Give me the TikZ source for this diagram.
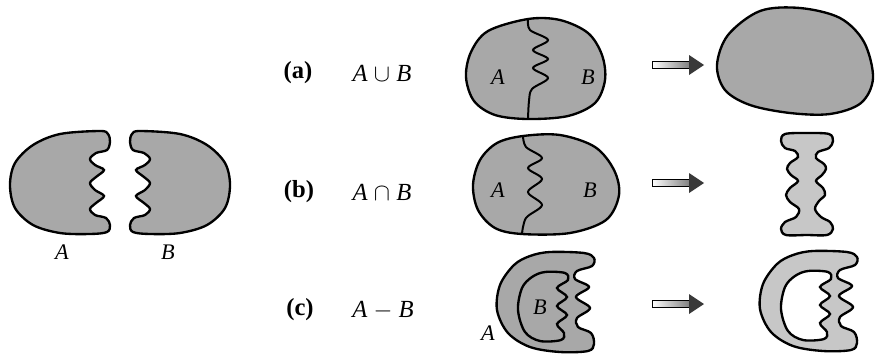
\documentclass[tikz,border=0pt]{standalone}
\usepackage{fontspec}
\setmainfont{Liberation Serif}

\definecolor{blobgray}{gray}{0.66}
\definecolor{lightblob}{gray}{0.78}

% outlines (pixel units, y downwards)
\newcommand{\pieceA}{plot[smooth cycle, tension=0.55] coordinates {
  (100,131) (108,134) (110,142) (107,150) (96,153) (90,159) (95,165) (104,170)
  (96,177) (90,183) (95,190) (104,196) (96,203) (90,209) (95,215) (106,218)
  (110,225) (107,232) (90,234) (60,233) (33,225) (15,208) (10,185) (15,163)
  (33,145) (60,134)}}
\newcommand{\outerA}{plot[smooth cycle, tension=0.55] coordinates {
  (550,252) (584,253) (594,258) (592,266) (577,271) (575,279) (589,287) (576,297)
  (590,308) (577,318) (578,327) (591,333) (594,344) (588,351) (560,352) (530,347)
  (508,333) (497,310) (500,285) (514,265) (530,256)}}
\newcommand{\innerB}{plot[smooth cycle, tension=0.55] coordinates {
  (545,272) (565,273) (568,280) (557,288) (567,297) (557,306) (567,315) (557,324)
  (564,333) (561,340) (540,341) (525,332) (518,310) (522,288) (532,277)}}

\begin{document}
\begin{tikzpicture}[x=0.03cm, y=-0.03cm,
  region/.style={draw=black, line width=2pt, fill=blobgray},
  result/.style={draw=black, line width=2pt, fill=lightblob},
  seam/.style={line width=1.7pt},
  tag/.style={font=\fontsize{21}{24}\selectfont},
  setlabel/.style={font=\fontsize{19}{22}\selectfont\itshape}]

  \useasboundingbox (0,0) rectangle (875,353);

  % The two pieces A and B
  \draw[region] \pieceA;
  \begin{scope}[shift={(240,0)}, xscale=-1]
    \draw[region] \pieceA;
  \end{scope}
  \node[setlabel] (lblA) at (62,252) {A};
  \node[setlabel] (lblB) at (168,252) {B};

  % Captions
  \node[tag] (tagA) at (298,73) {\textbf{(a)}};
  \node[tag] (opA) at (382,73) {\textit{A} $\cup$ \textit{B}};
  \node[tag] (tagB) at (299,192) {\textbf{(b)}};
  \node[tag] (opB) at (382,192) {\textit{A} $\cap$ \textit{B}};
  \node[tag] (tagC) at (300,310) {\textbf{(c)}};
  \node[tag] (opC) at (383,310) {\textit{A} $-$ \textit{B}};

  % (a) union
  \draw[region] plot[smooth cycle, tension=0.55] coordinates {
    (528,19) (560,20) (588,33) (602,55) (605,80) (595,103) (568,116) (528,119)
    (495,115) (474,101) (466,77) (471,52) (488,31)};
  \draw[seam] plot[smooth, tension=0.55] coordinates {
    (528,19) (530,30) (548,40) (533,50) (548,59) (533,68) (548,78) (532,89)
    (529,101) (528,119)};
  \node[setlabel] (inAa) at (498,77) {A};
  \node[setlabel] (inBa) at (588,77) {B};
  \draw[region] plot[smooth cycle, tension=0.55] coordinates {
    (760,11) (800,8) (840,18) (864,42) (873,78) (861,103) (830,114) (790,113)
    (750,105) (725,90) (717,65) (728,35)};

  % (b) intersection
  \draw[region] plot[smooth cycle, tension=0.55] coordinates {
    (523,136) (560,135) (595,147) (614,170) (619,195) (606,220) (570,233)
    (522,234) (495,228) (478,210) (473,185) (480,160) (497,143)};
  \draw[seam] plot[smooth, tension=0.55] coordinates {
    (523,136) (526,147) (542,158) (528,168) (542,179) (528,192) (542,205)
    (526,218) (522,234)};
  \node[setlabel] (inAb) at (498,190) {A};
  \node[setlabel] (inBb) at (590,190) {B};
  \draw[result] plot[smooth cycle, tension=0.55] coordinates {
    (807,133) (829,134) (833,141) (829,148) (818,152) (816,158) (824,164)
    (826,169) (822,175) (816,181) (823,188) (825,195) (819,201) (815,209)
    (821,217) (830,222) (833,229) (827,235) (807,235) (786,235) (781,229)
    (785,222) (796,217) (799,209) (790,202) (786,195) (790,188) (798,181)
    (791,175) (787,169) (790,163) (798,157) (795,151) (785,148) (781,141)
    (785,134)};

  % (c) difference
  \draw[region] \outerA;
  \draw[region] \innerB;
  \node[setlabel] (inAc) at (488,333) {A};
  \node[setlabel] (inBc) at (540,307) {B};
  \begin{scope}[shift={(263,-1)}]
    \draw[result, even odd rule] \outerA \innerB;
  \end{scope}

  % Arrows
  \foreach \y in {65,183,304} {
    \draw[line width=0.7pt, left color=white, right color=gray] (652,\y-3.5) rectangle (690,\y+3.5);
    \fill[gray!45!black] (689,\y-10) -- (704,\y) -- (689,\y+10) -- cycle;
  }
\end{tikzpicture}
\end{document}
